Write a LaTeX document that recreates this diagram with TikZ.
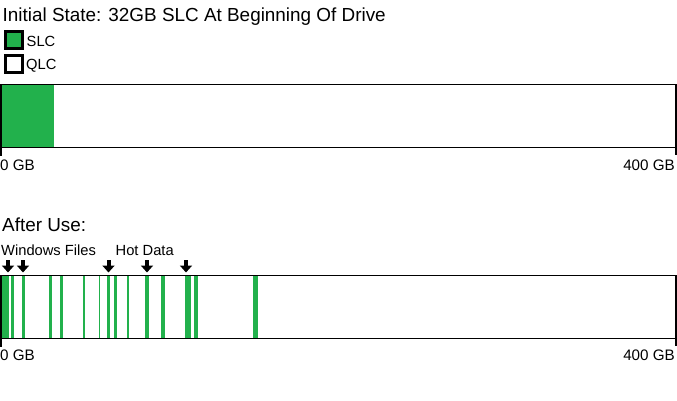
\documentclass[tikz,border=0pt]{standalone}
\usepackage{fontspec}
\setmainfont{Liberation Sans}
\usetikzlibrary{arrows.meta}
\definecolor{slcgreen}{RGB}{34,177,76}
\begin{document}
\begin{tikzpicture}[x=1pt,y=-1pt,
 lbl/.style={anchor=base west,inner sep=0pt,font=\fontsize{14.7}{17}\selectfont},
 ttl/.style={anchor=base west,inner sep=0pt,font=\fontsize{18.9}{22}\selectfont},
 gbl/.style={anchor=base west,inner sep=0pt,font=\fontsize{15.2}{18}\selectfont},
 gbr/.style={anchor=base east,inner sep=0pt,font=\fontsize{15.2}{18}\selectfont},
 barframe/.style={draw=black,line width=1pt},
 sideline/.style={draw=black,line width=2pt},
 legendbox/.style={draw=black,line width=3pt},
 marker/.style={-{Triangle[width=12pt,length=7pt]},line width=4pt}]
\useasboundingbox[fill=white] (0,0) rectangle (677,400);

% titles and legend
\node[ttl] (title) at (2.5,21.3) {Initial State: 32GB SLC At Beginning Of Drive};
\draw[legendbox,fill=slcgreen] (5.5,31.5) rectangle (22.5,48.5);
\node[lbl] (slc) at (26.5,46.5) {SLC};
\draw[legendbox,fill=white] (5.5,55.5) rectangle (22.5,72.5);
\node[lbl] (qlc) at (26,69) {QLC};

% initial bar
\fill[slcgreen] (1,85) rectangle (54.3,147);
\draw[barframe] (0,84.5) -- (677,84.5);
\draw[barframe] (0,147.5) -- (677,147.5);
\draw[sideline] (1,84) -- (1,156);
\draw[sideline] (676,84) -- (676,155);
\node[gbl] (zero1) at (0,170) {0 GB};
\node[gbr] (max1) at (675,170) {400 GB};

% after use
\node[ttl] (after) at (2,231.5) {After Use:};
\node[lbl] (win) at (1,255) {Windows Files};
\node[lbl] (hot) at (115.5,255) {Hot Data};

\foreach \a/\b in {1/9,11/14,22/25,49/52,60/63,82.7/85,99/100,107/110,114/117,127/129,145/149,161/165,185/191,194/198,253/258}
  \fill[slcgreen] (\a,276) rectangle (\b,338);
\draw[barframe] (0,275.8) -- (677,275.8);
\draw[barframe] (0,338.2) -- (677,338.2);
\draw[sideline] (1,275.3) -- (1,347);
\draw[sideline] (676,275.3) -- (676,346);
\node[gbl] (zero2) at (0,360) {0 GB};
\node[gbr] (max2) at (675,360) {400 GB};

% markers
\foreach \i/\c in {1/8,2/23,3/108.5,4/147,5/186}{
  \coordinate (ms\i) at (\c,260);
  \coordinate (me\i) at (\c,272.5);
  \draw[marker] (ms\i) -- (me\i);
}
\end{tikzpicture}
\end{document}
